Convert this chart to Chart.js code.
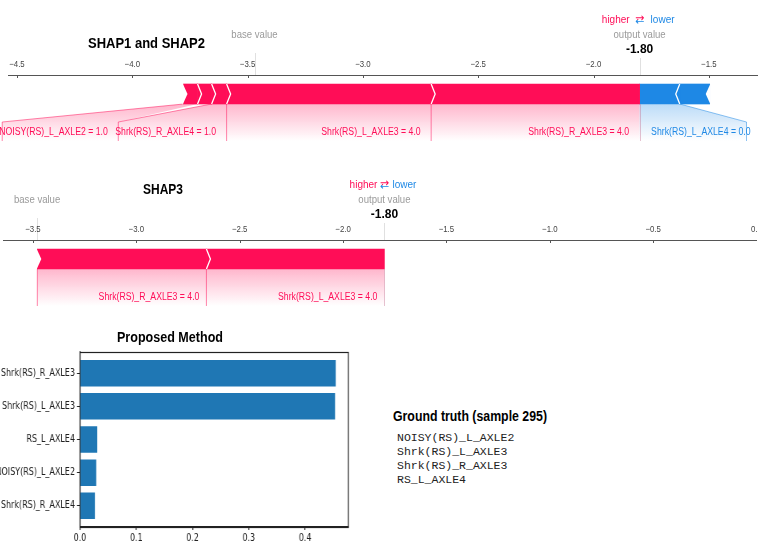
<!DOCTYPE html>
<html><head><meta charset="utf-8">
<script src="https://cdn.jsdelivr.net/npm/chart.js@4.4.1/dist/chart.umd.min.js"></script>
<style>
html,body{margin:0;padding:0;background:#fff;width:762px;height:549px;overflow:hidden;position:relative}
.box{position:absolute;overflow:hidden}
canvas{position:absolute;left:0;top:0}
.t{position:absolute;white-space:nowrap;font-family:'Liberation Sans',Arial,sans-serif;font-weight:bold;color:#000;transform-origin:0 50%;line-height:1}
.mono{position:absolute;font-family:'Liberation Mono','Courier New',monospace;font-size:11.5px;line-height:14px;color:#222;white-space:pre}
</style></head><body>
<div class="box" style="left:0;top:0;width:762px;height:150px"><canvas id="c1" width="762" height="150"></canvas></div>
<div class="box" style="left:0;top:165px;width:757px;height:150px"><canvas id="c2" width="800" height="150"></canvas></div>
<div class="box" style="left:0;top:320px;width:380px;height:229px"><canvas id="c3" width="488" height="229" style="left:-10px;transform:scaleX(0.8);transform-origin:0 0"></canvas></div>
<div class="t" style="left:88px;top:36px;font-size:14px" data-w="117">SHAP1 and SHAP2</div>
<div class="t" style="left:143px;top:182px;font-size:14px" data-w="40">SHAP3</div>
<div class="t" style="left:117px;top:330px;font-size:14px" data-w="106">Proposed Method</div>
<div class="t" style="left:393px;top:407.5px;font-size:15px" data-w="154">Ground truth (sample 295)</div>
<div class="mono" id="gt" style="left:397px;top:431px"></div>
<script>
// ---------- DATA ----------
// SHAP1 and SHAP2 force plot
const shap12Ticks = [-4.5, -4.0, -3.5, -3.0, -2.5, -2.0, -1.5];
const shap12Base = -3.47;
const shap12Output = -1.80;
const shap12PosLabels = ['NOISY(RS)_L_AXLE2 = 1.0', '', 'Shrk(RS)_R_AXLE4 = 1.0', 'Shrk(RS)_L_AXLE3 = 4.0', 'Shrk(RS)_R_AXLE3 = 4.0'];
const shap12PosValues = [0.061, 0.061, 0.065, 0.887, 0.904];
const shap12NegLabels = ['Shrk(RS)_L_AXLE4 = 0.0', ''];
const shap12NegValues = [0.174, 0.130];

// SHAP3 force plot
const shap3Ticks = [-3.5, -3.0, -2.5, -2.0, -1.5, -1.0, -0.5, 0.0];
const shap3Base = -3.48;
const shap3Output = -1.80;
const shap3PosLabels = ['Shrk(RS)_R_AXLE3 = 4.0', 'Shrk(RS)_L_AXLE3 = 4.0'];
const shap3PosValues = [0.818, 0.861];
const shap3NegLabels = [];
const shap3NegValues = [];

// Proposed Method bar chart
const methodFeatures = ['Shrk(RS)_R_AXLE3', 'Shrk(RS)_L_AXLE3', 'RS_L_AXLE4', 'NOISY(RS)_L_AXLE2', 'Shrk(RS)_R_AXLE4'];
const methodImportance = [0.4545, 0.4533, 0.0307, 0.0289, 0.0265];
const methodTicks = [0.0, 0.1, 0.2, 0.3, 0.4];

// Ground truth
const groundTruth = ['NOISY(RS)_L_AXLE2', 'Shrk(RS)_L_AXLE3', 'Shrk(RS)_R_AXLE3', 'RS_L_AXLE4'];

// ---------- RENDER ----------
const FONT = "'Liberation Sans', Arial, sans-serif";
const RED = 'rgb(255,13,87)', BLUE = 'rgb(30,136,229)';
const REDA = a => `rgba(255,13,87,${a})`, BLUEA = a => `rgba(30,136,229,${a})`;
const fmt = v => (v < 0 ? '\u2212' : '') + Math.abs(v).toFixed(1);
const SX = 0.87; // horizontal squeeze of the reference text

document.getElementById('gt').textContent = groundTruth.join('\n');
document.querySelectorAll('.t').forEach(e => {
  const nat = e.getBoundingClientRect().width;
  e.style.transform = `scaleX(${(+e.dataset.w) / nat})`;
});

function sText(ctx, txt, x, y, align, sx) {
  ctx.save(); ctx.translate(x, y); ctx.scale(sx, 1); ctx.textAlign = align; ctx.fillText(txt, 0, 0); ctx.restore();
}

function forcePlugin(o, segs, nPos) {
  return {
    id: 'force',
    afterDraw(chart) {
      const ctx = chart.ctx, xs = chart.scales.x, area = chart.chartArea;
      const el = chart.getDatasetMeta(0).data[0];
      const top = el.y - el.height / 2, bot = el.y + el.height / 2, mid = el.y;
      const px = v => xs.getPixelForValue(v);
      const ay = area.top;
      ctx.save();
      // tick marks (downward) and tick labels from the scale's ticks
      ctx.strokeStyle = '#555'; ctx.lineWidth = 1;
      ctx.font = '9px ' + FONT; ctx.fillStyle = '#444'; ctx.textBaseline = 'middle';
      xs.ticks.forEach(t => {
        const x = Math.round(px(t.value)) + 0.5;
        ctx.beginPath(); ctx.moveTo(x, ay); ctx.lineTo(x, ay + 3); ctx.stroke();
        sText(ctx, fmt(t.value), px(t.value), ay - 10, 'center', SX);
      });
      const bx = px(o.base), ox = px(o.output);
      // faint marker lines above axis
      ctx.strokeStyle = 'rgba(0,0,0,0.12)';
      ctx.beginPath(); ctx.moveTo(Math.round(bx) + 0.5, ay - 22); ctx.lineTo(Math.round(bx) + 0.5, ay); ctx.stroke();
      ctx.beginPath(); ctx.moveTo(Math.round(ox) + 0.5, ay - 17); ctx.lineTo(Math.round(ox) + 0.5, ay); ctx.stroke();
      // texts above
      ctx.font = '11px ' + FONT; ctx.fillStyle = '#9a9a9a';
      sText(ctx, 'base value', bx, ay - 40, 'center', SX);
      sText(ctx, 'output value', ox, ay - 40, 'center', SX);
      ctx.font = 'bold 12px ' + FONT; ctx.fillStyle = '#000';
      sText(ctx, o.output.toFixed(2), ox, ay - 25, 'center', 1);
      ctx.font = '11.5px ' + FONT;
      ctx.fillStyle = RED; sText(ctx, 'higher', ox - o.hlGap, ay - 55, 'right', SX);
      ctx.fillStyle = BLUE; sText(ctx, 'lower', ox + o.hlGap + 1, ay - 55, 'left', SX);
      ctx.textAlign = 'center'; ctx.font = '11px "DejaVu Sans"';
      ctx.save(); ctx.beginPath(); ctx.rect(ox - 10, ay - 66, 20, 11); ctx.clip(); ctx.fillStyle = RED; ctx.fillText('\u21C4', ox, ay - 55); ctx.restore();
      ctx.save(); ctx.beginPath(); ctx.rect(ox - 10, ay - 55, 20, 11); ctx.clip(); ctx.fillStyle = BLUE; ctx.fillText('\u21C4', ox, ay - 55); ctx.restore();

      // label area
      const lb = bot + 37, sl = 18, ty = bot + 28;
      ctx.font = '10px ' + FONT; ctx.textBaseline = 'middle';
      let prevLeft = Infinity;
      for (let i = nPos - 1; i >= 0; i--) {
        const s = segs[i]; if (!s.label) continue;
        const xa = px(s.a), xb = px(s.b), w = ctx.measureText(s.label).width * SX;
        const right = Math.min(xb, prevLeft);
        const left = Math.min(xa, right - o.pad - w + 3);
        const g = ctx.createLinearGradient(0, bot, 0, lb);
        g.addColorStop(0, REDA(0.3)); g.addColorStop(1, REDA(0));
        ctx.fillStyle = g;
        ctx.beginPath(); ctx.moveTo(xa, bot); ctx.lineTo(xb, bot); ctx.lineTo(right, bot + sl); ctx.lineTo(right, lb);
        ctx.lineTo(left, lb); ctx.lineTo(left, bot + sl); ctx.closePath(); ctx.fill();
        ctx.strokeStyle = REDA(0.5); ctx.lineWidth = 1;
        ctx.beginPath(); ctx.moveTo(xa, bot); ctx.lineTo(left, bot + sl); ctx.lineTo(left, lb); ctx.stroke();
        ctx.fillStyle = RED;
        sText(ctx, s.label, right - o.pad, ty, 'right', SX);
        prevLeft = left;
      }
      let prevRight = -Infinity;
      for (let i = nPos; i < segs.length; i++) {
        const s = segs[i]; if (!s.label) continue;
        const xa = px(s.a), xb = px(s.b), w = ctx.measureText(s.label).width * SX;
        const left = Math.max(xa, prevRight);
        const right = Math.max(xb, left + o.pad + w - 3);
        const g = ctx.createLinearGradient(0, bot, 0, lb);
        g.addColorStop(0, BLUEA(0.3)); g.addColorStop(1, BLUEA(0));
        ctx.fillStyle = g;
        ctx.beginPath(); ctx.moveTo(xa, bot); ctx.lineTo(xb, bot); ctx.lineTo(right, bot + sl); ctx.lineTo(right, lb);
        ctx.lineTo(left, lb); ctx.lineTo(left, bot + sl); ctx.closePath(); ctx.fill();
        ctx.strokeStyle = BLUEA(0.5); ctx.lineWidth = 1;
        ctx.beginPath(); ctx.moveTo(xb, bot); ctx.lineTo(right, bot + sl); ctx.lineTo(right, lb); ctx.stroke();
        ctx.fillStyle = BLUE;
        sText(ctx, s.label, left + o.pad + 1, ty, 'left', SX);
        prevRight = right;
      }
      // output separator line
      ctx.strokeStyle = 'rgba(200,120,150,0.45)';
      ctx.beginPath(); ctx.moveTo(Math.round(ox) + 0.5, bot); ctx.lineTo(Math.round(ox) + 0.5, lb); ctx.stroke();

      // chevrons
      const tip = 4;
      ctx.strokeStyle = '#fff'; ctx.fillStyle = '#fff'; ctx.lineWidth = 1.3;
      for (let i = 0; i < nPos - 1; i++) {
        const x = px(segs[i].b);
        ctx.beginPath(); ctx.moveTo(x, top); ctx.lineTo(x + tip, mid); ctx.lineTo(x, bot); ctx.stroke();
      }
      if (nPos > 0) {
        const x0 = px(segs[0].a);
        ctx.beginPath(); ctx.moveTo(x0 - 1, top - 1); ctx.lineTo(x0 + tip, mid); ctx.lineTo(x0 - 1, bot + 1); ctx.closePath(); ctx.fill();
      }
      for (let i = nPos; i < segs.length - 1; i++) {
        const x = px(segs[i].b);
        ctx.beginPath(); ctx.moveTo(x, top); ctx.lineTo(x - tip, mid); ctx.lineTo(x, bot); ctx.stroke();
      }
      if (segs.length > nPos) {
        const x1 = px(segs[segs.length - 1].b);
        ctx.beginPath(); ctx.moveTo(x1 + 1, top - 1); ctx.lineTo(x1 - tip, mid); ctx.lineTo(x1 + 1, bot + 1); ctx.closePath(); ctx.fill();
      }
      ctx.restore();
    }
  };
}

function forceChart(id, o) {
  const segs = [];
  let cur = o.output - o.pos.reduce((a, b) => a + b, 0);
  o.pos.forEach((v, i) => { segs.push({ a: cur, b: cur + v, label: o.posLabels[i] }); cur += v; });
  cur = o.output;
  o.neg.forEach((v, i) => { segs.push({ a: cur, b: cur + v, label: o.negLabels[i] }); cur += v; });
  const nPos = o.pos.length;
  const datasets = segs.map((s, i) => ({
    data: [[s.a, s.b]], backgroundColor: i < nPos ? RED : BLUE, borderWidth: 0,
    grouped: false, barThickness: 20
  }));
  new Chart(document.getElementById(id), {
    type: 'bar',
    data: { labels: [''], datasets },
    options: {
      indexAxis: 'y', responsive: false, animation: false, events: [],
      layout: { padding: { left: o.padL, right: o.padR, top: 60, bottom: 37 } },
      plugins: { legend: { display: false }, tooltip: { enabled: false } },
      scales: {
        x: {
          type: 'linear', position: 'top', min: o.min, max: o.max,
          afterBuildTicks: s => { s.ticks = o.ticks.map(v => ({ value: v })); },
          afterFit: s => { s.height = 15; },
          grid: { display: false, drawTicks: false },
          border: { display: true, color: '#555', width: 1 },
          ticks: { display: false, autoSkip: false, maxRotation: 0 }
        },
        y: { display: false }
      }
    },
    plugins: [forcePlugin(o, segs, nPos)]
  });
}

forceChart('c1', {
  ticks: shap12Ticks, base: shap12Base, output: shap12Output,
  pos: shap12PosValues, posLabels: shap12PosLabels, neg: shap12NegValues, negLabels: shap12NegLabels,
  min: -4.539, max: -1.291, padL: 8, padR: 5, pad: 10.5, hlGap: 10
});
forceChart('c2', {
  ticks: shap3Ticks, base: shap3Base, output: shap3Output,
  pos: shap3PosValues, posLabels: shap3PosLabels, neg: shap3NegValues, negLabels: shap3NegLabels,
  min: -3.645, max: 0.162, padL: 3, padR: 10, pad: 7, hlGap: 7
});

const framePlugin = {
  id: 'frame',
  afterDraw(chart) {
    const { ctx, chartArea: a } = chart;
    ctx.save(); ctx.strokeStyle = '#222'; ctx.lineWidth = 1.2;
    ctx.strokeRect(a.left, Math.round(a.top) + 0.5, a.right - a.left, Math.round(a.bottom - a.top));
    ctx.restore();
  }
};

new Chart(document.getElementById('c3'), {
  type: 'bar',
  data: { datasets: [{ data: methodImportance.map((v, i) => ({ x: v, y: i })), backgroundColor: '#1f77b4', borderWidth: 0, barPercentage: 0.8, categoryPercentage: 1 }] },
  options: {
    indexAxis: 'y', responsive: false, animation: false, events: [],
    layout: { padding: { left: 0, right: 40, top: 32, bottom: 2 } },
    plugins: { legend: { display: false }, tooltip: { enabled: false } },
    scales: {
      x: {
        type: 'linear', min: 0, max: 0.477, offset: false,
        afterBuildTicks: s => { s.ticks = methodTicks.map(v => ({ value: v })); },
        afterFit: s => { s.height = 20; },
        grid: { drawOnChartArea: false, drawTicks: true, tickLength: 3, color: '#222', lineWidth: 1.2, offset: false },
        border: { color: '#222', width: 1.2 },
        ticks: { padding: 2, color: '#222', font: { size: 10, family: "'DejaVu Sans'" }, callback: v => v.toFixed(1), autoSkip: false, maxRotation: 0 }
      },
      y: {
        type: 'linear', min: -0.64, max: 4.64, reverse: true, offset: false,
        afterBuildTicks: s => { s.ticks = methodFeatures.map((_, i) => ({ value: i })); },
        afterFit: s => { s.width = 112.5; },
        grid: { drawOnChartArea: false, drawTicks: true, tickLength: 3.75, color: '#222', offset: false },
        border: { color: '#222', width: 1.2 },
        ticks: { padding: 2.5, color: '#222', font: { size: 10, family: "'DejaVu Sans'" }, callback: v => methodFeatures[v], autoSkip: false }
      }
    }
  },
  plugins: [framePlugin]
});
</script>
</body></html>
